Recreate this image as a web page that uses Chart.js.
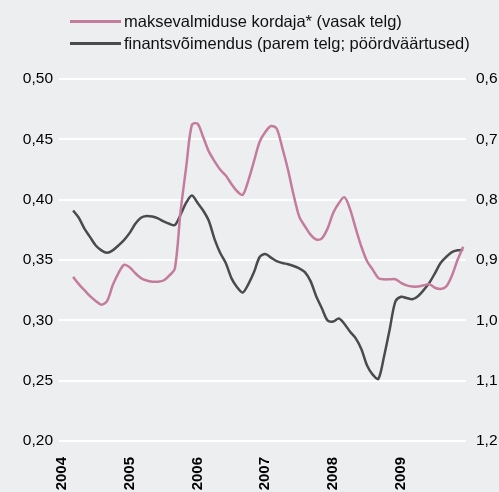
<!DOCTYPE html>
<html>
<head>
<meta charset="utf-8">
<script src="https://cdn.jsdelivr.net/npm/chart.js@4"></script>
<style>
html, body { margin: 0; padding: 0; background: #edeef0; }
#wrap { position: relative; width: 499px; height: 492px; }
#legend { position: absolute; left: 70px; top: 11px; font: 16.5px "Liberation Sans", Arial, sans-serif; color: #111; }
.item { display: flex; align-items: center; height: 21.5px; white-space: nowrap; }
.swatch { width: 51px; height: 3px; margin-right: 3px; }
</style>
</head>
<body>
<div id="wrap">
  <canvas id="myChart" width="499" height="492"></canvas>
  <div id="legend"></div>
</div>
<script>
// kuud 2004-01 ... 2009-12
const years = ['2004', '2005', '2006', '2007', '2008', '2009'];
const months = [];
years.forEach(y => {
    for (let m = 1; m <= 12; m++) months.push(y + '-' + String(m).padStart(2, '0'));
});

// maksevalmiduse kordaja (vasak telg)
const maksevalmidus = [
    null, null, 0.336, 0.330, 0.325, 0.320, 0.316, 0.313, 0.316, 0.329, 0.339, 0.346,
    0.344, 0.339, 0.335, 0.333, 0.332, 0.332, 0.333, 0.337, 0.343, 0.390, 0.427, 0.462,
    0.463, 0.452, 0.440, 0.432, 0.425, 0.420, 0.413, 0.407, 0.404, 0.416, 0.432, 0.448,
    0.456, 0.461, 0.459, 0.443, 0.425, 0.404, 0.386, 0.378, 0.371, 0.367, 0.368, 0.376,
    0.389, 0.397, 0.402, 0.392, 0.376, 0.361, 0.349, 0.342, 0.335, 0.334, 0.334, 0.334,
    0.331, 0.329, 0.328, 0.328, 0.329, 0.330, 0.327, 0.326, 0.328, 0.337, 0.350, 0.361
];

// finantsvõimendus (parem telg, pööratud)
const finantsvoimendus = [
    null, null, 0.818, 0.830, 0.848, 0.862, 0.876, 0.884, 0.888, 0.884, 0.876, 0.867,
    0.855, 0.840, 0.830, 0.827, 0.828, 0.831, 0.836, 0.840, 0.842, 0.825, 0.805, 0.793,
    0.805, 0.818, 0.835, 0.865, 0.888, 0.905, 0.930, 0.945, 0.954, 0.940, 0.920, 0.895,
    0.890, 0.896, 0.902, 0.905, 0.907, 0.910, 0.914, 0.920, 0.935, 0.960, 0.980, 1.000,
    1.002, 0.997, 1.006, 1.019, 1.030, 1.048, 1.075, 1.090, 1.097, 1.060, 1.015, 0.969,
    0.961, 0.963, 0.965, 0.960, 0.950, 0.938, 0.922, 0.905, 0.895, 0.887, 0.884, 0.883
];

const seriesNames = ['maksevalmiduse kordaja* (vasak telg)', 'finantsvõimendus (parem telg; pöördväärtused)'];
const seriesColors = ['#c47c9d', '#4b4b4d'];

const font = '"Liberation Sans", Arial, sans-serif';

// legend
const legend = document.getElementById('legend');
seriesNames.forEach((name, i) => {
    const row = document.createElement('div');
    row.className = 'item';
    row.innerHTML = '<span class="swatch" style="background:' + seriesColors[i] + '"></span>' + name;
    legend.appendChild(row);
});

const ctx = document.getElementById('myChart').getContext('2d');
new Chart(ctx, {
    type: 'line',
    data: {
        labels: months,
        datasets: [{
            label: seriesNames[0],
            data: maksevalmidus,
            borderColor: seriesColors[0],
            borderWidth: 2.5,
            pointRadius: 0,
            tension: 0.3,
            yAxisID: 'y'
        }, {
            label: seriesNames[1],
            data: finantsvoimendus,
            borderColor: seriesColors[1],
            borderWidth: 2.5,
            pointRadius: 0,
            tension: 0.3,
            yAxisID: 'y2'
        }]
    },
    options: {
        responsive: false,
        animation: false,
        layout: { padding: { top: 79, left: 0, right: 0, bottom: 0 } },
        plugins: { legend: { display: false }, tooltip: { enabled: false } },
        scales: {
            x: {
                offset: true,
                grid: { display: false },
                border: { display: false },
                afterFit: s => { s.height = 51; },
                ticks: {
                    autoSkip: false,
                    maxRotation: 90,
                    minRotation: 90,
                    padding: 8,
                    color: '#000',
                    font: { family: font, size: 15, weight: 'bold' },
                    callback: function (val, idx) {
                        return idx % 12 === 0 ? months[idx].slice(0, 4) : '';
                    }
                }
            },
            y: {
                position: 'left',
                min: 0.20,
                max: 0.50,
                afterFit: s => { s.width = 59; },
                grid: { color: '#ffffff', lineWidth: 2, drawTicks: false },
                border: { display: false },
                ticks: {
                    stepSize: 0.05,
                    padding: 6,
                    color: '#000',
                    font: { family: font, size: 15.5 },
                    callback: v => v.toFixed(2).replace('.', ',')
                }
            },
            y2: {
                position: 'right',
                reverse: true,
                min: 0.6,
                max: 1.2,
                afterFit: s => { s.width = 33; },
                grid: { display: false, drawTicks: false },
                border: { display: false },
                ticks: {
                    stepSize: 0.1,
                    padding: 10,
                    color: '#000',
                    font: { family: font, size: 15.5 },
                    callback: v => v.toFixed(1).replace('.', ',')
                }
            }
        }
    }
});
</script>
</body>
</html>
